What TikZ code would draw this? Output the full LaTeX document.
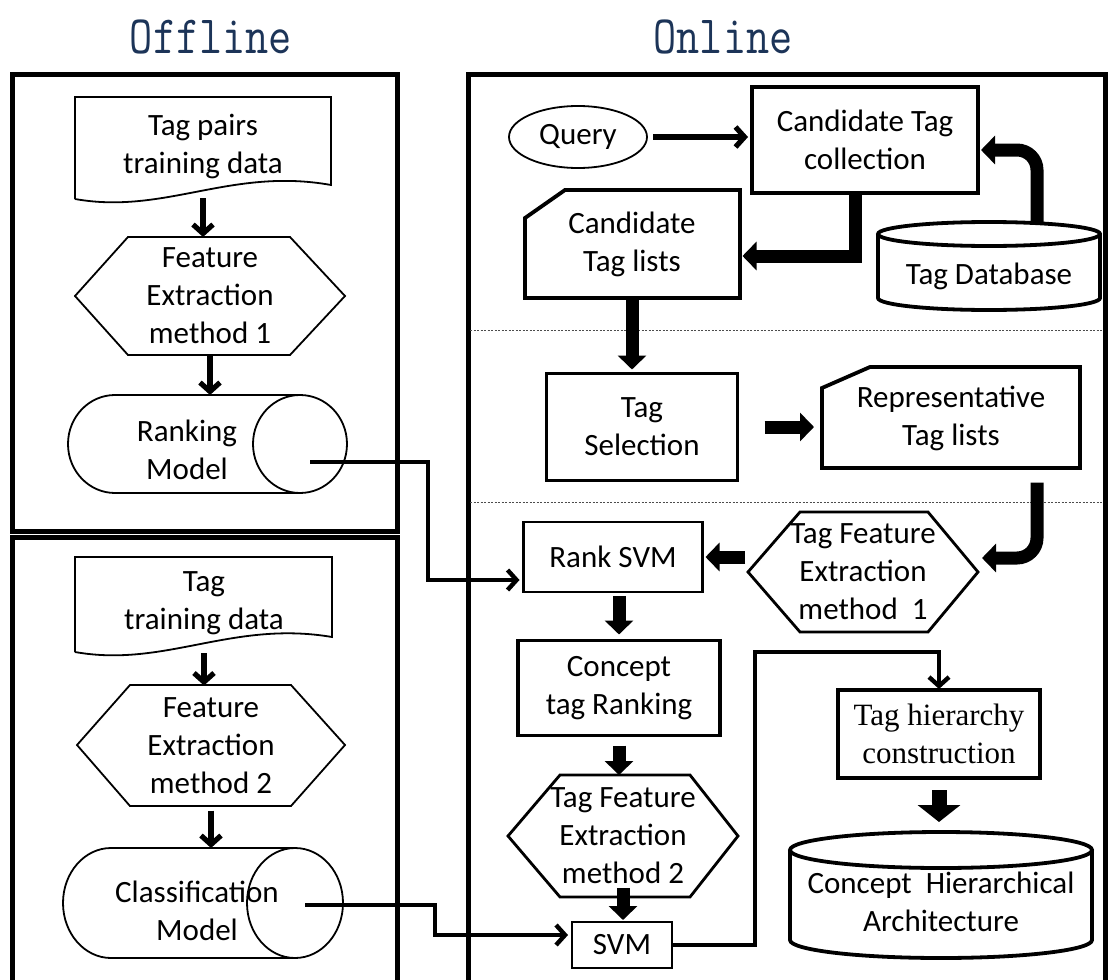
\documentclass[tikz,border=0pt]{standalone}
\usepackage{graphicx}
\usepackage{fontspec}
\setmainfont{Carlito}
\newfontfamily\headfont{Latin Modern Mono}
\newfontfamily\romanface{Liberation Serif}
\usetikzlibrary{arrows.meta,calc,shapes.geometric}
\definecolor{headblue}{RGB}{28,52,88}
\begin{document}
\begin{tikzpicture}[x=1pt,y=-1pt,
  every node/.style={inner sep=0pt,outer sep=0pt},
  lbl/.style={font=\fontsize{31}{38}\selectfont, align=center},
  head/.style={font=\headfont\fontsize{45}{45}\selectfont, text=headblue},
  hairline/.style={line width=1.8pt},
  boxline/.style={line width=3.8pt},
  frameline/.style={line width=5pt},
  barb/.style={line width=5.2pt, -{Straight Barb[length=9pt,width=20pt]}},
  link/.style={line width=4.4pt, -{Straight Barb[length=9pt,width=20pt]}},
  blockarrow/.style={line width=13pt, -{Triangle[length=14pt,width=28pt]}},
  widehead/.style={line width=15pt, -{Triangle[length=17pt,width=42pt]}},
  divline/.style={line width=0.9pt, dash pattern=on 2pt off 1.5pt, black!70}
]
\useasboundingbox (0,0) rectangle (1110,979);
\fill[white] (0,0) rectangle (1110,979);

% headings
\node[head] (offhead) at (211,37) {\scalebox{1}[1.2]{Offline}};
\node[head] (onhead) at (723,37) {\scalebox{1}[1.2]{Online}};

% panels
\draw[frameline] (12,75) rectangle (397,531);
\draw[frameline] (12,537) rectangle (397,995);
\draw[frameline] (468,75) rectangle (1105,995);
\draw[divline] (470,330) -- (1103,330);
\draw[divline] (470,502) -- (1103,502);

% ---------- offline, ranking branch ----------
\node[lbl, minimum width=256, minimum height=98] (doc1) at (203,146) {Tag pairs\\training data};
\draw[hairline] (75,199) -- (75,97) -- (331,97) -- (331,185)
  .. controls (231,167) and (165,215) .. (75,199);

\node[lbl, minimum width=270, minimum height=118] (hex1) at (210,296) {Feature\\Extraction\\method 1};
\draw[hairline] (75,296) -- (128,237) -- (290,237) -- (345,296) -- (290,355) -- (128,355) -- cycle;

\node[minimum width=279, minimum height=98] (cyl1) at (207,444) {};
\node[lbl] (rank) at (187,450) {Ranking\\Model};
\draw[hairline] (300,395) -- (115,395) arc[start angle=270,end angle=90,x radius=47,y radius=49] -- (300,493);
\draw[hairline] (300,444) ellipse[x radius=47,y radius=49];
\coordinate (rankout) at (310,462);

\draw[barb, shorten <=3pt] (doc1.south) -- (doc1.south |- hex1.north);
\draw[barb] (hex1.south) -- (hex1.south |- cyl1.north);

% ---------- offline, classification branch ----------
\node[lbl, minimum width=257, minimum height=94] (doc2) at (204,603) {Tag\\training data};
\draw[hairline] (75,652) -- (75,557) -- (332,557) -- (332,637)
  .. controls (232,620) and (165,668) .. (75,652);

\node[lbl, minimum width=268, minimum height=121] (hex2) at (211,746) {Feature\\Extraction\\method 2};
\draw[hairline] (77,745) -- (130,685) -- (291,685) -- (345,745) -- (291,806) -- (130,806) -- cycle;

\node[minimum width=280, minimum height=110] (cyl2) at (203,903) {};
\node[lbl] (cls) at (197,911) {Classification\\Model};
\draw[hairline] (295,848) -- (111,848) arc[start angle=270,end angle=90,x radius=48,y radius=55] -- (295,958);
\draw[hairline] (295,903) ellipse[x radius=48,y radius=55];
\coordinate (clsout) at (305,905);

\draw[barb, shorten <=3pt] (doc2.south) -- (doc2.south |- hex2.north);
\draw[barb, shorten <=4pt] (hex2.south) -- (hex2.south |- cyl2.north);

% ---------- online, collection stage ----------
\node[lbl, draw, ellipse, hairline, minimum width=138, minimum height=62] (query) at (578,137) {Query};
\node[lbl, draw, boxline, minimum width=226, minimum height=106] (ctc) at (865,140) {Candidate Tag\\collection};

\node[minimum width=222, minimum height=88] (tdb) at (989,266) {};
\draw[boxline] (878,234) -- (878,298) arc[start angle=180,end angle=0,x radius=111,y radius=12] -- (1100,234);
\draw[boxline] (989,234) ellipse[x radius=111,y radius=12];
\node[lbl] (tdbtxt) at (989,276) {Tag Database};

\node[lbl, minimum width=215, minimum height=108] (ctl) at (632,244) {Candidate\\Tag lists};
\draw[boxline] (525,218) -- (565,190) -- (740,190) -- (740,298) -- (525,298) -- cycle;

\draw[barb, shorten <=6pt, shorten >=4pt] (query.east) -- (ctc.west |- query.east);
\draw[blockarrow, rounded corners=20pt, shorten >=3pt] ([xshift=48pt]tdb.north) |- ([yshift=-10pt]ctc.east);
\draw[blockarrow, shorten >=3pt] ([xshift=-10pt]ctc.south) |- ([yshift=-12pt]ctl.east);

% ---------- online, selection stage ----------
\node[lbl, draw, boxline, minimum width=191, minimum height=107] (tsel) at (642,427) {Tag\\Selection};
\node[lbl, minimum width=258, minimum height=101] (rtl) at (951,418) {Representative\\Tag lists};
\draw[boxline] (822,388) -- (870,367) -- (1080,367) -- (1080,468) -- (822,468) -- cycle;

\draw[blockarrow, shorten <=2pt, shorten >=4pt] (ctl.south) -- (ctl.south |- tsel.north);
\draw[blockarrow, shorten <=27pt, shorten >=8pt] (tsel.east) -- (rtl.west |- tsel.east);

% ---------- online, ranking stage ----------
\node[lbl, minimum width=230, minimum height=120] (tfe1) at (863,572) {Tag Feature\\Extraction\\method\ \ 1};
\draw[line width=2.8pt] (748,572) -- (800,512) -- (928,512) -- (978,572) -- (928,632) -- (800,632) -- cycle;

\node[lbl, draw, line width=2.2pt, minimum width=179, minimum height=70] (rsvm) at (613,557) {Rank SVM};
\node[lbl, draw, boxline, minimum width=202, minimum height=95] (ctr) at (619,688) {Concept\\tag Ranking};

\node[lbl, minimum width=230, minimum height=122] (tfe2) at (623,836) {Tag Feature\\Extraction\\method 2};
\draw[line width=2.8pt] (508,836) -- (560,775) -- (690,775) -- (738,836) -- (690,897) -- (560,897) -- cycle;

\node[lbl, draw, line width=2.6pt, minimum width=100, minimum height=46] (svm) at (622,945) {SVM};

\node[lbl, draw, line width=3.4pt, font=\romanface\fontsize{31}{38}\selectfont,
  minimum width=202, minimum height=88] (thc) at (939,734) {Tag hierarchy\\construction};

\node[minimum width=302, minimum height=126] (cha) at (941,895) {};
\draw[boxline] (790,850) -- (790,940) arc[start angle=180,end angle=0,x radius=151,y radius=18] -- (1092,850);
\draw[boxline] (941,850) ellipse[x radius=151,y radius=18];
\node[lbl] (chatxt) at (941,902) {Concept\ \ Hierarchical\\Architecture};

\coordinate (tfeone) at (tfe1.west |- rsvm.east);
\draw[blockarrow, rounded corners=20pt] ([xshift=86pt,yshift=-14pt]rtl.south) |- ([xshift=4pt,yshift=14pt]tfe1.east);
\draw[blockarrow, shorten <=3pt, shorten >=3pt] (tfeone) -- (rsvm.east);
\draw[blockarrow, shorten <=4pt, shorten >=6pt] (rsvm.south -| ctr.north) -- (ctr.north);
\draw[blockarrow, shorten <=10pt] (ctr.south) -- (ctr.south |- tfe2.north);
\draw[blockarrow, shorten <=-9pt, shorten >=2pt] (tfe2.south) -- (tfe2.south |- svm.north);
\draw[link, shorten >=1pt] (svm.east) -- ++(83,0) |- ($(thc.north)+(0,-38)$) -- (thc.north);
\draw[widehead, shorten <=12pt, shorten >=10pt] (thc.south) -- (thc.south |- cha.north);

% ---------- model connectors ----------
\draw[link] (rankout) -- ++(118,0) |- ([xshift=-4pt,yshift=-23pt]rsvm.west);
\draw[link] (clsout) -- ++(130,0) |- ([xshift=-4pt,yshift=10pt]svm.west);
\end{tikzpicture}
\end{document}
